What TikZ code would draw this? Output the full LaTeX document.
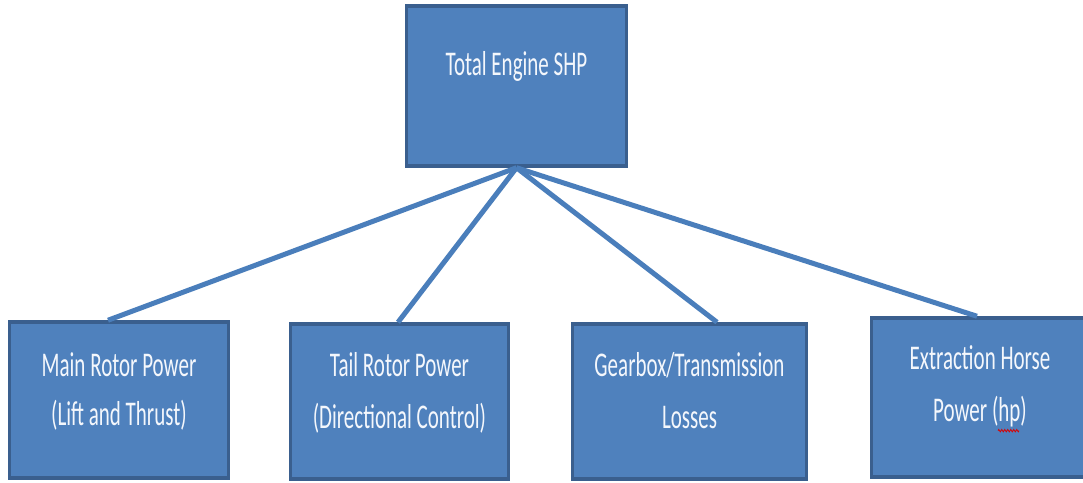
\documentclass[tikz,border=0pt]{standalone}
\usepackage{fontspec}
\setmainfont{Carlito}
\usetikzlibrary{calc,decorations.pathmorphing}
\definecolor{boxfill}{HTML}{4F81BD}
\definecolor{boxedge}{HTML}{3A5F8E}
\definecolor{linkblue}{HTML}{4A7EBB}
\definecolor{labelwhite}{HTML}{F4F7FC}
\newcommand{\tall}[1]{\scalebox{1}[1.65]{#1}}
\tikzset{
  x=1pt, y=1pt,
  blockbox/.style={draw=boxedge, fill=boxfill, line width=3.5pt, inner sep=0pt, rectangle},
  blocktext/.style={text=labelwhite, inner sep=0pt, font=\fontsize{21}{24}\selectfont},
  link/.style={draw=linkblue, line width=5pt},
}
\begin{document}
\begin{tikzpicture}
\useasboundingbox (0,0) rectangle (1083,482);
\begin{scope}
\clip (0,0) rectangle (1083,482);
% boxes
\node[blockbox, minimum width=220pt, minimum height=160pt] (top) at (516.5,396) {};
\node[blockbox, minimum width=219pt, minimum height=156pt] (main) at (119,82) {};
\node[blockbox, minimum width=218pt, minimum height=155pt] (tail) at (399.5,80.5) {};
\node[blockbox, minimum width=234pt, minimum height=155pt] (gear) at (689.5,80.5) {};
\node[blockbox, minimum width=217pt, minimum height=159pt] (extr) at (980,84.5) {};
% connectors
\draw[link] (top.south) -- ([xshift=-11pt]main.north);
\draw[link] (top.south) -- ([xshift=-1.5pt]tail.north);
\draw[link] (top.south) -- ([xshift=27.5pt]gear.north);
\draw[link] (top.south) -- ([xshift=-3pt]extr.north);
% labels
\node[blocktext] (toplbl) at ($(top.center)+(0,20)$) {\tall{Total Engine SHP}};
\node[blocktext] (mainA) at ($(main.center)+(0,35)$) {\tall{Main Rotor Power}};
\node[blocktext] (mainB) at ($(main.center)+(0,-15)$) {\tall{(Lift and Thrust)}};
\node[blocktext] (tailA) at ($(tail.center)+(0,36.5)$) {\tall{Tail Rotor Power}};
\node[blocktext] (tailB) at ($(tail.center)+(0,-16.5)$) {\tall{(Directional Control)}};
\node[blocktext] (gearA) at ($(gear.center)+(0,36.5)$) {\tall{Gearbox/Transmission}};
\node[blocktext] (gearB) at ($(gear.center)+(0,-16.5)$) {\tall{Losses}};
\node[blocktext] (extrA) at ($(extr.center)+(0,39.5)$) {\tall{Extraction Horse}};
\node[blocktext] (extrB) at ($(extr.center)+(0,-14.5)$) {\tall{Power (hp)}};
% spelling mark under "hp"
\draw[red!85!black, line width=0.8pt, decorate, decoration={zigzag, amplitude=1.2pt, segment length=3pt}]
  ($(extrB.south)+(18,-3)$) -- ++(21,0);
\end{scope}
\end{tikzpicture}
\end{document}
